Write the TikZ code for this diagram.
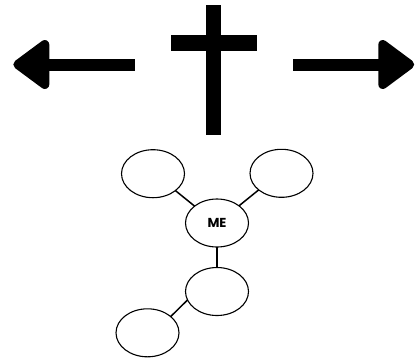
\documentclass[tikz,border=0pt]{standalone}
\usepackage{fontspec}
\setmainfont{Poppins}
\usetikzlibrary{shapes.geometric}
\definecolor{ink}{HTML}{000000}
\tikzset{
  bubble/.style={draw=ink,line width=1.1pt,ellipse,inner sep=0pt,outer sep=0pt,minimum width=#1,minimum height=48pt,fill=white},
  bubble/.default=63pt,
  link/.style={draw=ink,line width=1.5pt},
  solidbar/.style={fill=ink,draw=none},
  arrowhead/.style={fill=ink,draw=ink,line width=9pt,line join=round}
}
\begin{document}
\begin{tikzpicture}[x=1pt,y=-1pt]
\useasboundingbox (0,0) rectangle (419,360);
% left arrow
\fill[solidbar] (45,58.7) rectangle (135,70.7);
\path[arrowhead] (17.8,64.5) -- (44.8,44.5) -- (44.8,84.5) -- cycle;
% right arrow
\fill[solidbar] (293,58.7) rectangle (382,70.7);
\path[arrowhead] (409.7,64.5) -- (382.8,44.5) -- (382.8,84.5) -- cycle;
% cross
\fill[solidbar] (206,5) rectangle (221,135);
\fill[solidbar] (171,35) rectangle (256.5,50.5);
% bubbles
\node[bubble] (me) at (217,223) {\fontsize{13}{15}\selectfont\bfseries ME};
\node[bubble] (tl) at (153,173.7) {};
\node[bubble] (tr) at (281.5,173.3) {};
\node[bubble] (bm) at (217,291.5) {};
\node[bubble] (bl) at (147.5,332.8) {};
% links
\draw[link] (tl.-37) -- (me.143);
\draw[link] (tr.216) -- (me.38);
\draw[link] (me.south) -- (bm.north);
\draw[link] (bm.196) -- (bl.35);
\end{tikzpicture}
\end{document}
